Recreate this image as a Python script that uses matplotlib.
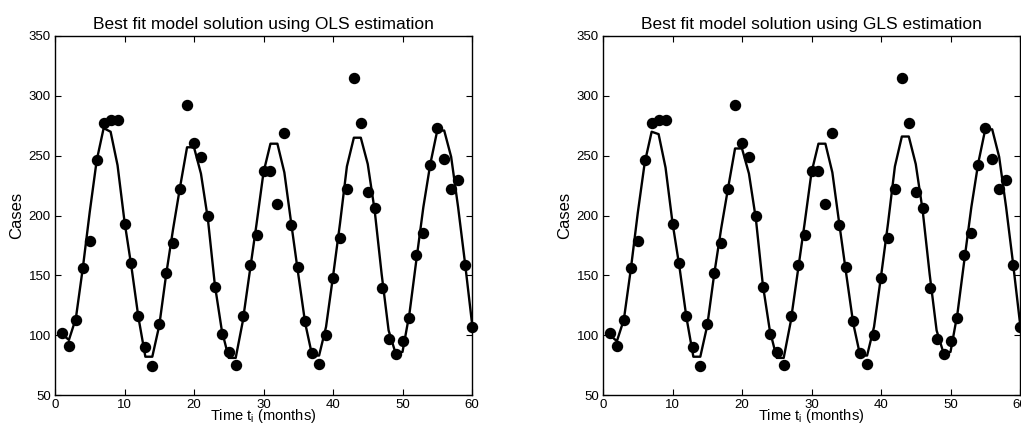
import numpy as np
import matplotlib
matplotlib.use("Agg")
import matplotlib.pyplot as plt

plt.rcParams['font.family'] = ['Liberation Sans', 'DejaVu Sans']

# Monthly observations
months = list(range(1, 61))
cases = [102, 91, 113, 156, 179, 246, 277, 280, 280, 193,
         160, 116, 90, 74, 109, 152, 177, 222, 292, 261,
         249, 200, 140, 101, 86, 75, 116, 159, 184, 237,
         237, 210, 269, 192, 157, 112, 85, 76, 100, 148,
         181, 222, 315, 277, 220, 206, 139, 97, 84, 95,
         114, 167, 185, 242, 273, 247, 222, 230, 159, 107]

# Fitted model solutions at each month
model_ols = [101, 96, 114, 156, 203, 246, 273, 270, 242, 195,
             157, 115, 82, 82, 108, 151, 189, 224, 257, 257,
             235, 197, 142, 104, 81, 81, 111, 152, 193, 236,
             260, 260, 236, 193, 151, 110, 83, 83, 107, 149,
             193, 241, 265, 265, 243, 204, 151, 104, 85, 86,
             118, 163, 207, 243, 271, 271, 249, 207, 160, 110]
model_gls = [100, 95, 113, 155, 202, 244, 270, 268, 240, 194,
             157, 115, 82, 82, 108, 151, 189, 223, 256, 256,
             235, 197, 142, 104, 81, 81, 111, 152, 193, 236,
             260, 260, 236, 193, 151, 110, 83, 83, 107, 149,
             193, 241, 266, 266, 243, 204, 151, 104, 85, 86,
             118, 163, 207, 244, 272, 272, 249, 207, 160, 110]

titles = ["Best fit model solution using OLS estimation",
          "Best fit model solution using GLS estimation"]
xticks = [0, 10, 20, 30, 40, 50, 60]
yticks = [50, 100, 150, 200, 250, 300, 350]

W, H = 1021, 433
fig = plt.figure(figsize=(W / 100, H / 100), dpi=100)
ax_rects = [[55 / W, 38 / H, 417 / W, 359 / H],
            [603 / W, 38 / H, 417 / W, 359 / H]]

for rect, title, model in zip(ax_rects, titles, [model_ols, model_gls]):
    ax = fig.add_axes(rect)
    ax.plot(months, model, color='black', lw=1.7, zorder=2)
    ax.plot(months, cases, 'o', color='black', ms=7.2, zorder=3, clip_on=False)
    ax.set_xlim(0, 60)
    ax.set_ylim(50, 350)
    ax.set_xticks(xticks)
    ax.set_yticks(yticks)
    ax.tick_params(direction='in', top=True, right=True, length=4,
                   width=0.8, labelsize=9.5, pad=3)
    for sp in ax.spines.values():
        sp.set_linewidth(1.0)
    ax.set_title(title, fontsize=12.5, pad=5)
    ax.set_ylabel("Cases", fontsize=12, labelpad=3)
    ax.set_xlabel(r"Time t$_\mathregular{i}$ (months)", fontsize=10.5, labelpad=-3)

fig.savefig("out.png", dpi=100)
